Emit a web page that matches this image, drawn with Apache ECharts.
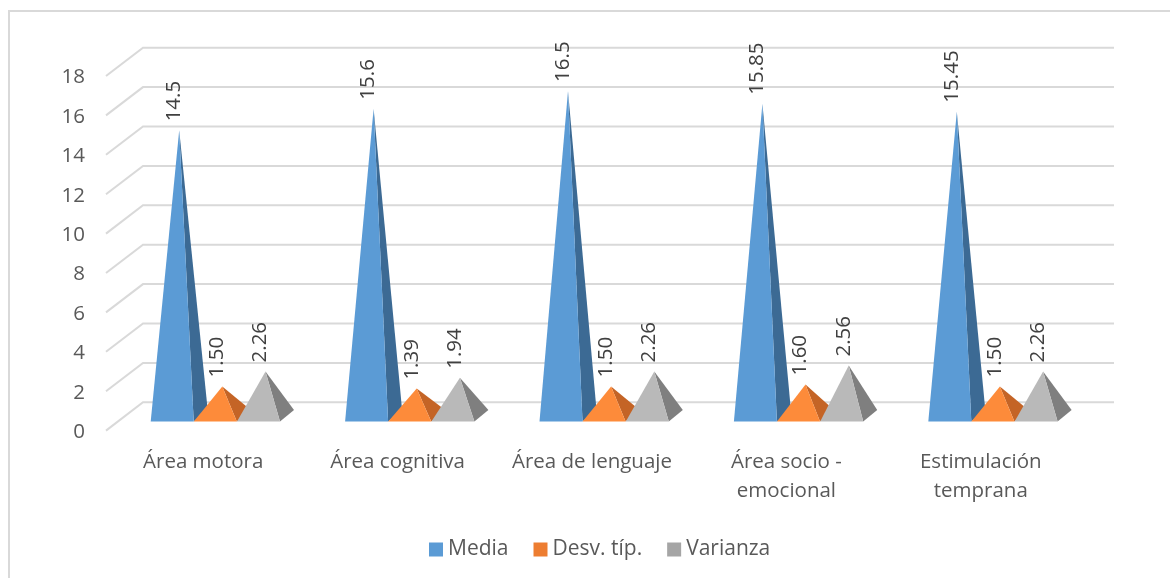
<!DOCTYPE html>
<html><head><meta charset="utf-8">
<style>html,body{margin:0;padding:0;background:#fff}#c{width:1170px;height:578px}</style>
<script src="https://cdn.jsdelivr.net/npm/echarts@6/dist/echarts.min.js"></script>
</head><body><div id="c"></div>
<script>
const categories = ['Área motora','Área cognitiva','Área de lenguaje','Área socio -\nemocional','Estimulación\ntemprana'];
const media = [14.5,15.6,16.5,15.85,15.45];
const desv = [1.50,1.39,1.50,1.60,1.50];
const varianza = [2.26,1.94,2.26,2.56,2.26];
const mediaLabels = ['14.5','15.6','16.5','15.85','15.45'];
const desvLabels = ['1.50','1.39','1.50','1.60','1.50'];
const varianzaLabels = ['2.26','1.94','2.26','2.56','2.26'];
const ticks = [0,2,4,6,8,10,12,14,16,18];

const FONT = 'Open Sans';
const W = 43, DX = 14, DY = 11.6, SHIFT = 1.5;
function pyramid(offset, front, side, labels){
  return function(params, api){
    const i = api.value(0), v = api.value(1);
    const c = api.coord([i, v]), z = api.coord([i, 0]);
    const x = c[0] + offset, by = z[1] - 9 - SHIFT;
    const apex = [x + W/2 + DX/2, c[1] - 14.6 - SHIFT];
    const A=[x,by], B=[x+W,by], C=[x+W+DX,by-DY];
    return {type:'group', children:[
      {type:'polygon', shape:{points:[apex,B,C]}, style:{fill:side}},
      {type:'polygon', shape:{points:[apex,A,B]}, style:{fill:front}},
      {type:'text', x:apex[0]-5, y:apex[1]-9, rotation:Math.PI/2,
       style:{text:labels[i], font:'20.5px "'+FONT+'"', fill:'#404040', align:'left', verticalAlign:'middle'}}
    ]};
  };
}
function walls(params, api){
  const v = api.value(0);
  const p = api.coord([0, v]);
  const y = p[1] - SHIFT;
  const left = p[0] - api.size([1,0])[0]/2;
  const right = left + 972;
  const style = {stroke:'#d9d9d9', lineWidth:2, fill:'none'};
  return {type:'group', children:[
    {type:'polyline', shape:{points:[[left,y],[left+37,y-28.3],[right+36,y-28.3]]}, style}
  ]};
}
const chart = echarts.init(document.getElementById('c'));
chart.setOption({
  animation:false,
  backgroundColor:'#fff',
  graphic:[{type:'polyline', silent:true, shape:{points:[[9,578],[9,11],[1170,11]]}, style:{stroke:'#d9d9d9', lineWidth:2, fill:'none'}}],
  grid:{left:106, width:972, top:77.5, height:354.6},
  legend:{left:424, top:534, itemWidth:14, itemHeight:14, itemGap:25, icon:'rect',
    textStyle:{fontFamily:FONT, fontSize:21, color:'#595959'},
    data:[{name:'Media',itemStyle:{color:'#5b9bd5'}},{name:'Desv. típ.',itemStyle:{color:'#ed7d31'}},{name:'Varianza',itemStyle:{color:'#a5a5a5'}}]},
  xAxis:{type:'category', data:categories, axisLine:{show:false}, axisTick:{show:false},
    axisLabel:{fontFamily:FONT, fontSize:20.5, color:'#595959', margin:15.5, lineHeight:29, interval:0}},
  yAxis:{type:'value', min:0, max:18, interval:2, splitLine:{show:false}, axisLine:{show:false}, axisTick:{show:false},
    axisLabel:{fontFamily:FONT, fontSize:20.5, color:'#595959', margin:21}},
  series:[
    {type:'custom', name:'grid', silent:true, renderItem:walls, data:ticks.map(t=>[t]), encode:{y:0}, z:1, clip:false},
    {type:'custom', name:'Media', color:'#5b9bd5', renderItem:pyramid(-52.5,'#5b9bd5','#3c6a94',mediaLabels), data:media.map((v,i)=>[i,v]), encode:{x:0,y:1}, z:2, clip:false},
    {type:'custom', name:'Desv. típ.', color:'#ed7d31', renderItem:pyramid(-9.4,'#fd8b3a','#c46426',desvLabels), data:desv.map((v,i)=>[i,v]), encode:{x:0,y:1}, z:3, clip:false},
    {type:'custom', name:'Varianza', color:'#a5a5a5', renderItem:pyramid(33.8,'#b9b9b9','#7f7f7f',varianzaLabels), data:varianza.map((v,i)=>[i,v]), encode:{x:0,y:1}, z:4, clip:false}
  ]
});
</script></body></html>
